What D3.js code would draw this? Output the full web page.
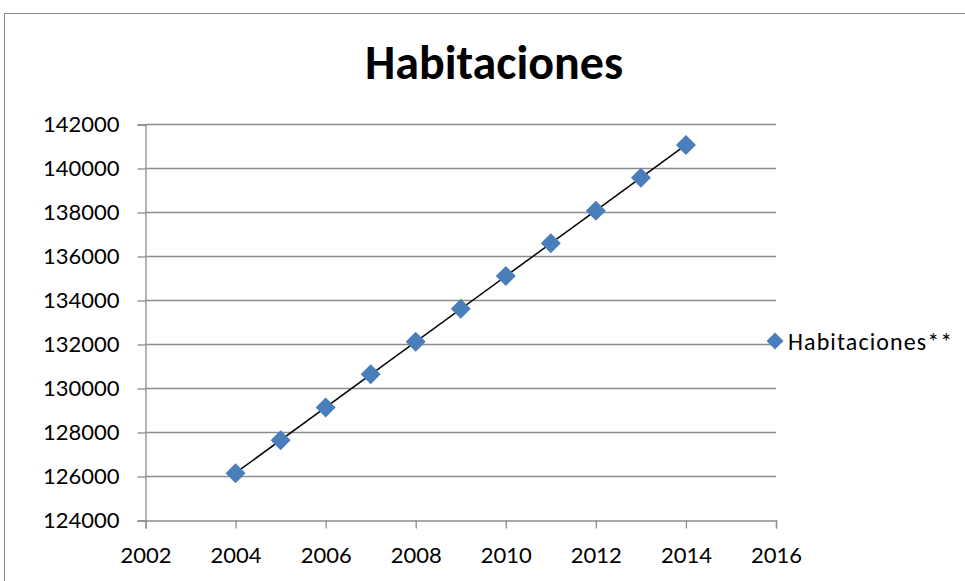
<!DOCTYPE html>
<html>
<head>
<meta charset="utf-8">
<script src="https://cdn.jsdelivr.net/npm/d3@7"></script>
<style>
  html, body { margin: 0; padding: 0; background: #fff; }
  svg { display: block; }
  text { font-family: Carlito, Lato, "Open Sans", sans-serif; fill: #000; }
</style>
</head>
<body>
<svg id="chart" width="965" height="581"></svg>
<script>
// Habitaciones por año
const years = [2004, 2005, 2006, 2007, 2008, 2009, 2010, 2011, 2012, 2013, 2014];
const habitaciones = [126150, 127650, 129140, 130650, 132130, 133620, 135110, 136600, 138080, 139580, 141070];
const xTicks = [2002, 2004, 2006, 2008, 2010, 2012, 2014, 2016];
const yTicks = [124000, 126000, 128000, 130000, 132000, 134000, 136000, 138000, 140000, 142000];
const title = "Habitaciones";
const seriesName = "Habitaciones**";

const svg = d3.select("#chart");
const W = 965, H = 581;
const blue = "#4a7ebb";
const gridColor = "#8c8c8c";

// chart frame
svg.append("rect")
  .attr("x", 4.5).attr("y", 13.5)
  .attr("width", W + 20).attr("height", H + 20)
  .attr("fill", "#fff").attr("stroke", "#898989").attr("stroke-width", 1);

const x = d3.scaleLinear().domain([2002, 2016]).range([145.5, 776]);
const y = d3.scaleLinear().domain([124000, 142000]).range([520.5, 124.5]);

// title
svg.append("text")
  .attr("x", 494).attr("y", 79)
  .attr("text-anchor", "middle")
  .style("font-size", "48px").style("font-weight", "bold")
  .text(title);

// horizontal gridlines
svg.append("g").selectAll("line").data(yTicks.slice(1)).join("line")
  .attr("x1", x(2002)).attr("x2", x(2016))
  .attr("y1", d => y(d)).attr("y2", d => y(d))
  .attr("stroke", gridColor).attr("stroke-width", 1.3);

// y axis
const yAxis = d3.axisLeft(y).tickValues(yTicks).tickSize(8).tickPadding(18).tickFormat(d3.format("d"));
const gy = svg.append("g").attr("transform", `translate(${x(2002)},0)`).call(yAxis);
gy.select(".domain").attr("stroke", gridColor).attr("stroke-width", 1.3);
gy.selectAll(".tick line").attr("stroke", gridColor).attr("stroke-width", 1.3);
gy.selectAll(".tick text").style("font-size", "22px").style("font-family", "Lato, sans-serif").attr("fill", "#000");

// x axis
const xAxis = d3.axisBottom(x).tickValues(xTicks).tickSize(8).tickPadding(19).tickFormat(d3.format("d"));
const gx = svg.append("g").attr("transform", `translate(0,${y(124000)})`).call(xAxis);
gx.select(".domain").attr("stroke", gridColor).attr("stroke-width", 1.3);
gx.selectAll(".tick line").attr("stroke", gridColor).attr("stroke-width", 1.3);
gx.selectAll(".tick text").style("font-size", "22px").style("font-family", "Lato, sans-serif").attr("fill", "#000");

// linear trend line (least squares)
const mx = d3.mean(years), my = d3.mean(habitaciones);
const slope = d3.sum(years, (v, i) => (v - mx) * (habitaciones[i] - my)) / d3.sum(years, v => (v - mx) ** 2);
const intercept = my - slope * mx;
const x0 = d3.min(years), x1 = d3.max(years);
svg.append("line")
  .attr("x1", x(x0)).attr("y1", y(intercept + slope * x0))
  .attr("x2", x(x1)).attr("y2", y(intercept + slope * x1))
  .attr("stroke", "#000").attr("stroke-width", 1.5);

// diamond markers
const diamond = r => `M0,${-r}L${r},0L0,${r}L${-r},0Z`;
svg.append("g").selectAll("path").data(years).join("path")
  .attr("transform", (d, i) => `translate(${x(d)},${y(habitaciones[i])})`)
  .attr("d", diamond(10))
  .attr("fill", blue);

// legend
const lg = svg.append("g").attr("transform", "translate(775,341)");
lg.append("path").attr("d", diamond(8.5)).attr("fill", blue);
lg.append("text").attr("x", 13).attr("y", 8.5)
  .style("font-size", "24px").style("letter-spacing", "1.1px")
  .text(seriesName);
</script>
</body>
</html>
